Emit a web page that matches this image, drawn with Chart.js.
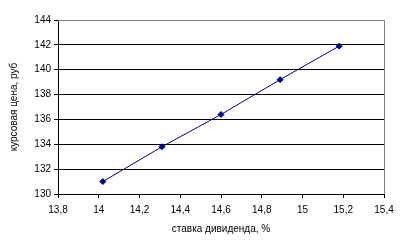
<!DOCTYPE html>
<html>
<head>
<meta charset="utf-8">
<script src="https://cdn.jsdelivr.net/npm/chart.js@4.4.0/dist/chart.umd.min.js"></script>
<style>
  html, body { margin: 0; padding: 0; background: #fff; }
  #wrap { width: 408px; height: 250px; position: relative; }
</style>
</head>
<body>
<div id="wrap"><canvas id="chart"></canvas></div>
<script>
// ставка дивиденда, % -> курсовая цена, руб
var dividendRate = [14.02, 14.31, 14.6, 14.89, 15.18];
var marketPrice = [131.0, 133.8, 136.4, 139.2, 141.9];

var xTitle = 'ставка дивиденда, %';
var yTitle = 'курсовая цена, руб';

var points = dividendRate.map(function (x, i) { return { x: x, y: marketPrice[i] }; });

function commaNum(v) {
  return String(+Number(v).toFixed(1)).replace('.', ',');
}

// gray top/right frame of the plot area, like Excel
var frame = {
  id: 'frame',
  afterDraw: function (chart) {
    var a = chart.chartArea, c = chart.ctx;
    c.save();
    c.strokeStyle = '#808080';
    c.lineWidth = 1;
    c.beginPath();
    c.moveTo(a.left, a.top + 0.5);
    c.lineTo(a.right + 0.5, a.top + 0.5);
    c.lineTo(a.right + 0.5, a.bottom);
    c.stroke();
    c.restore();
  }
};

Chart.defaults.font.family = '"Liberation Sans", Arial, sans-serif';
Chart.defaults.font.size = 10;
Chart.defaults.color = '#000';

new Chart(document.getElementById('chart'), {
  type: 'scatter',
  plugins: [frame],
  data: {
    datasets: [{
      data: points,
      showLine: true,
      borderColor: '#000080',
      backgroundColor: '#000080',
      borderWidth: 1,
      pointStyle: 'rectRot',
      pointRadius: 3,
      pointHoverRadius: 3
    }]
  },
  options: {
    responsive: true,
    maintainAspectRatio: false,
    animation: false,
    events: [],
    layout: { padding: { top: 20, right: 24, left: 8, bottom: 15 } },
    plugins: { legend: { display: false }, tooltip: { enabled: false } },
    scales: {
      x: {
        type: 'linear',
        min: 13.8,
        max: 15.4,
        ticks: { stepSize: 0.2, padding: 6, maxRotation: 0, callback: commaNum },
        grid: { drawOnChartArea: false, drawTicks: true, tickLength: 4, color: '#000' },
        border: { color: '#000' },
        title: { display: true, text: xTitle, padding: { top: 4, bottom: 0 } },
        afterFit: function (s) { s.height = 41; }
      },
      y: {
        min: 130,
        max: 144,
        ticks: { stepSize: 2, padding: 3, callback: commaNum },
        grid: { color: '#000', tickLength: 4 },
        border: { color: '#000' },
        title: { display: true, text: yTitle, padding: { top: 0, bottom: 4 } },
        afterFit: function (s) { s.width = 50; }
      }
    }
  }
});
</script>
</body>
</html>
